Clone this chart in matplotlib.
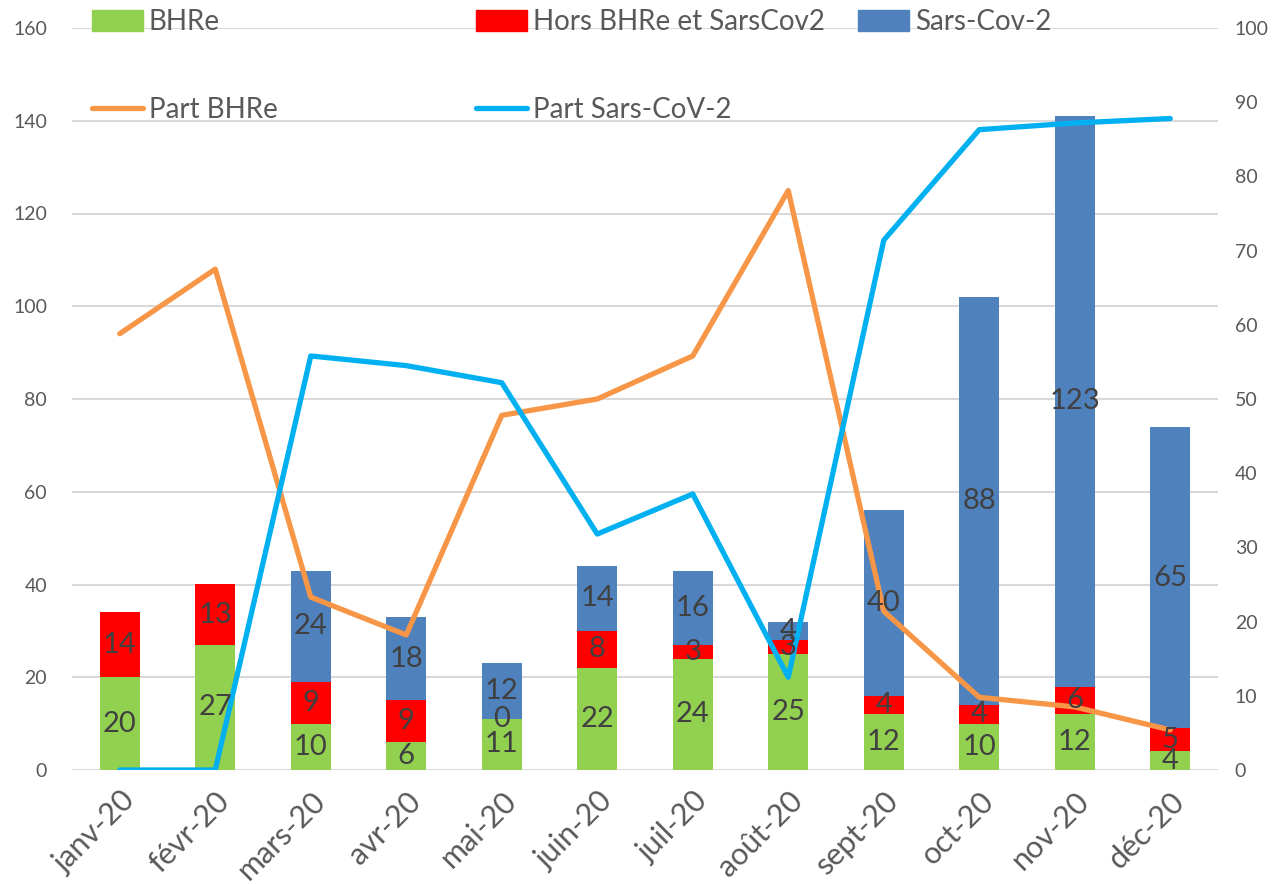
import numpy as np
import matplotlib
matplotlib.use("Agg")
import matplotlib.pyplot as plt
from matplotlib.patches import Patch
from matplotlib.lines import Line2D

plt.rcParams['font.family'] = ['Lato', 'DejaVu Sans']

# données
mois = ["janv-20", "févr-20", "mars-20", "avr-20", "mai-20", "juin-20",
        "juil-20", "août-20", "sept-20", "oct-20", "nov-20", "déc-20"]
bhre = [20, 27, 10, 6, 11, 22, 24, 25, 12, 10, 12, 4]
hors_bhre = [14, 13, 9, 9, 0, 8, 3, 3, 4, 4, 6, 5]
sars_cov2 = [None, None, 24, 18, 12, 14, 16, 4, 40, 88, 123, 65]
part_bhre = [58.8, 67.5, 23.3, 18.2, 47.8, 50.0, 55.8, 78.1, 21.4, 9.8, 8.5, 5.4]
part_sars = [0, 0, 55.8, 54.5, 52.2, 31.8, 37.2, 12.5, 71.4, 86.3, 87.2, 87.8]

vert = "#92D050"
rouge = "#FF0000"
bleu = "#4F81BD"
orange = "#F79646"
cyan = "#00B0F0"
gris_txt = "#595959"
txt_lab = "#404040"

fig = plt.figure(figsize=(12.81, 8.84), dpi=100)
ax = fig.add_axes([72 / 1281, 114 / 884, 1146 / 1281, 742 / 884])
ax2 = ax.twinx()

x = np.arange(len(mois))
b1 = np.array(bhre, dtype=float)
b2 = np.array(hors_bhre, dtype=float)
b3 = np.array([np.nan if v is None else v for v in sars_cov2], dtype=float)
b3z = np.nan_to_num(b3)

w = 0.42
ax.bar(x, b1, w, color=vert, zorder=2)
ax.bar(x, b2, w, bottom=b1, color=rouge, zorder=2)
ax.bar(x, b3z, w, bottom=b1 + b2, color=bleu, zorder=2)

ax2.plot(x, part_bhre, color=orange, lw=3.8, solid_capstyle='round', zorder=3)
ax2.plot(x, part_sars, color=cyan, lw=3.8, solid_capstyle='round', zorder=3)

# étiquettes de données au-dessus de tout
for i in x:
    segs = [(0, b1[i]), (b1[i], b2[i]), (b1[i] + b2[i], b3[i])]
    for bas, h in segs:
        if np.isnan(h):
            continue
        ax2.text(i, bas + h / 2, str(int(h)), transform=ax.transData,
                 ha='center', va='center', fontsize=21, color=txt_lab, zorder=10)

ax.set_xlim(-0.5, len(mois) - 0.5)
ax.set_ylim(0, 160)
ax.set_yticks(range(0, 161, 20))
ax2.set_ylim(0, 100)
ax2.set_yticks(range(0, 101, 10))

ax.grid(axis='y', color="#D9D9D9", lw=1.5, zorder=0)
ax.set_axisbelow(True)
for a in (ax, ax2):
    for s in a.spines.values():
        s.set_visible(False)

ax.tick_params(axis='y', length=0, pad=18, labelsize=14, labelcolor=gris_txt)
ax2.tick_params(axis='y', length=0, pad=12, labelsize=14, labelcolor=gris_txt)
ax.set_xticks(x)
ax.set_xticklabels(mois, rotation=45, ha='right', va='top', rotation_mode='anchor',
                   fontsize=22, color=gris_txt)
ax.tick_params(axis='x', length=0, pad=12)

# légende en 3 colonnes
leg_kw = dict(loc='upper left', frameon=False, fontsize=20, borderpad=0,
              borderaxespad=0, handlelength=1.85, handleheight=0.8,
              handletextpad=0.2, labelspacing=2.25, labelcolor=gris_txt)
col1 = [Patch(color=vert), Line2D([], [], color=orange, lw=3.8, solid_capstyle='round')]
col2 = [Patch(color=rouge), Line2D([], [], color=cyan, lw=3.8, solid_capstyle='round')]
col3 = [Patch(color=bleu)]
haut = 1 - 9 / 884
fig.legend(col1, ["BHRe", "Part BHRe"], bbox_to_anchor=(92 / 1281, haut), **leg_kw)
fig.legend(col2, ["Hors BHRe et SarsCov2", "Part Sars-CoV-2"],
           bbox_to_anchor=(476 / 1281, haut), **leg_kw)
fig.legend(col3, ["Sars-Cov-2"], bbox_to_anchor=(858 / 1281, haut), **leg_kw)

fig.savefig("out.png", dpi=100, facecolor="white")
